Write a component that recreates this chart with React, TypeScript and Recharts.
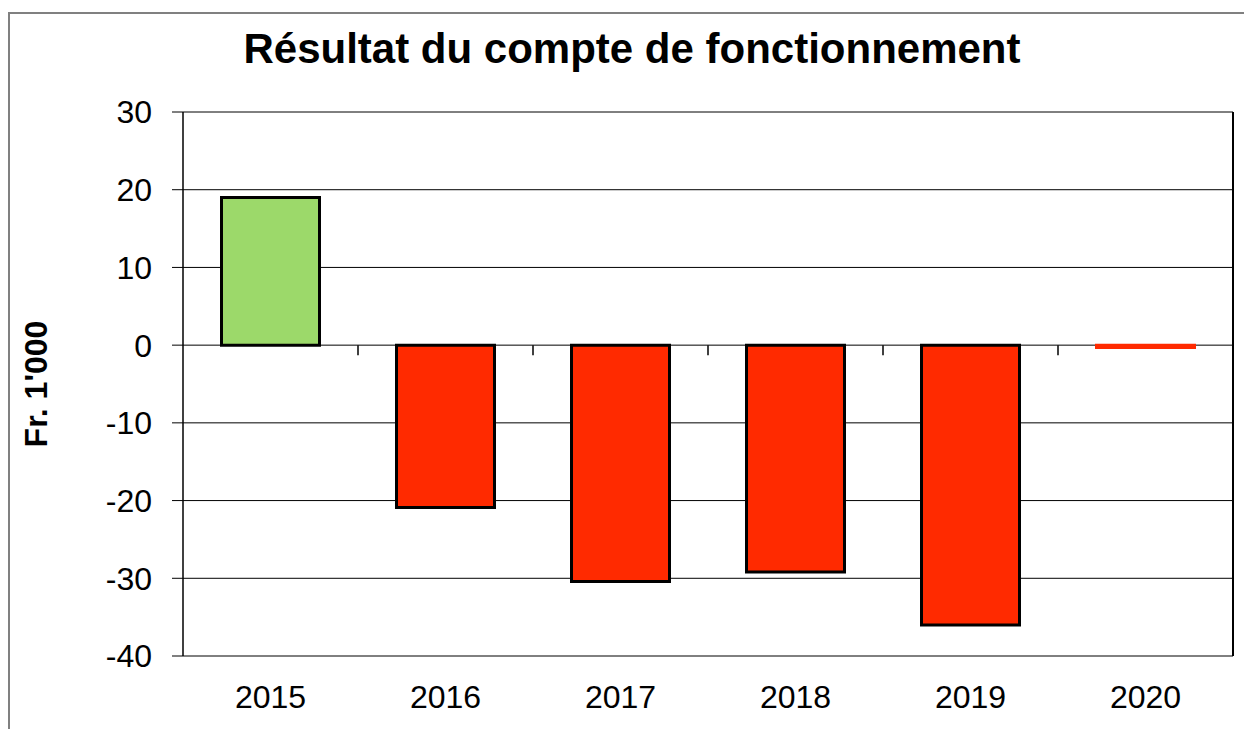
import React from "react";
import { BarChart, Bar, XAxis, YAxis, CartesianGrid, Cell, ReferenceLine } from "recharts";

const years = ["2015", "2016", "2017", "2018", "2019", "2020"];
const results = [19.0, -20.9, -30.4, -29.2, -36.0, -0.3];
const yTicks = [-40, -30, -20, -10, 0, 10, 20, 30];
const categoryBoundaries = [1, 2, 3, 4, 5];

const title = "Résultat du compte de fonctionnement";
const yLabel = "Fr. 1'000";

const data = years.map((y, i) => ({ year: y, value: results[i], pos: i + 0.5 }));

const FONT = "'Liberation Sans', Arial, Helvetica, sans-serif";
const GREEN = "#9CD96A";
const RED = "#FF2A00";

export default function App() {
  return (
    <div style={{ position: "absolute", left: 0, top: 0, width: 1244, height: 729, overflow: "hidden", background: "#fff", fontFamily: FONT }}>
      <div style={{ position: "absolute", left: 8, top: 12, width: 1400, height: 900, border: "2px solid #808080", boxSizing: "border-box" }} />
      <BarChart
        width={1244}
        height={729}
        data={data}
        margin={{ top: 112, right: 11, bottom: 0, left: 103 }}
        barCategoryGap="22%"
        style={{ position: "absolute", left: 0, top: 0 }}
      >
        <text x={632} y={63} textAnchor="middle" fontFamily={FONT} fontWeight="bold" fontSize={42} fill="#000">
          {title}
        </text>
        <text
          x={47}
          y={384}
          textAnchor="middle"
          fontFamily={FONT}
          fontWeight="bold"
          fontSize={32}
          fill="#000"
          transform="rotate(-90 47 384)"
        >
          {yLabel}
        </text>
        <CartesianGrid xAxisId="cat" vertical={false} stroke="#000" strokeWidth={1} />
        <XAxis
          xAxisId="cat"
          dataKey="year"
          axisLine={false}
          tickLine={false}
          tickSize={0}
          tickMargin={29}
          height={73}
          tick={{ fill: "#000", fontSize: 32, fontFamily: FONT }}
        />
        <XAxis
          xAxisId="n"
          type="number"
          dataKey="pos"
          domain={[0, 6]}
          ticks={[0, 1, 2, 3, 4, 5, 6]}
          allowDataOverflow
          hide
        />
        <YAxis
          domain={[-40, 30]}
          ticks={yTicks}
          interval={0}
          width={80}
          axisLine={{ stroke: "#000", strokeWidth: 1.5 }}
          tickLine={{ stroke: "#000", strokeWidth: 1 }}
          tickSize={11}
          tickMargin={20}
          tick={{ fill: "#000", fontSize: 32, fontFamily: FONT }}
        />
        <ReferenceLine xAxisId="n" x={6} stroke="#000" strokeWidth={2} ifOverflow="visible" />
        {categoryBoundaries.map((b) => (
          <ReferenceLine
            key={b}
            xAxisId="n"
            segment={[{ x: b, y: 0 }, { x: b, y: -1.3 }]}
            stroke="#000"
            strokeWidth={1.5}
            ifOverflow="visible"
          />
        ))}
        <Bar xAxisId="cat" dataKey="value" isAnimationActive={false} strokeWidth={3}>
          {data.map((d, i) => (
            <Cell
              key={i}
              fill={d.value >= 0 ? GREEN : RED}
              stroke={Math.abs(d.value) < 1 ? RED : "#000"}
            />
          ))}
        </Bar>
      </BarChart>
    </div>
  );
}
